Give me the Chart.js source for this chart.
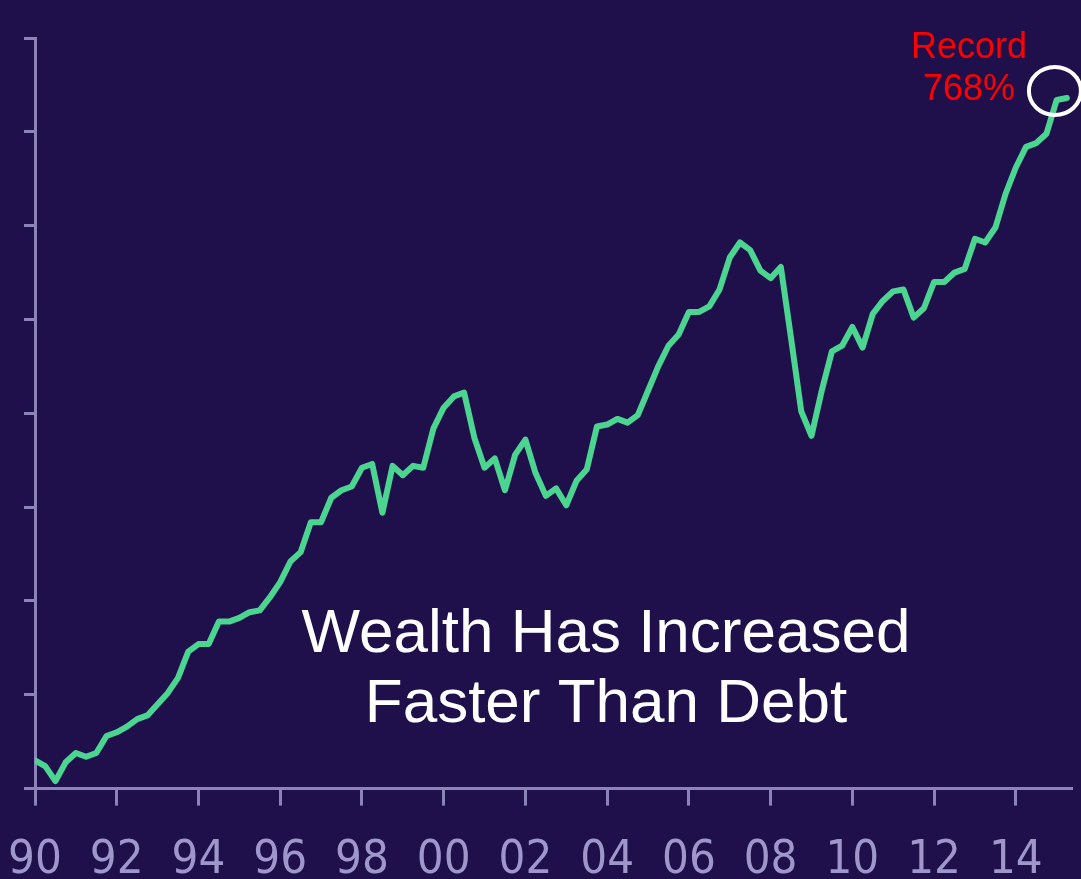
<!DOCTYPE html>
<html>
<head>
<meta charset="utf-8">
<script src="https://cdn.jsdelivr.net/npm/chart.js@4"></script>
<style>
  html, body { margin: 0; padding: 0; background: #1f104b; overflow: hidden; }
  #wrap { width: 1081px; height: 879px; position: relative; }
</style>
</head>
<body>
<div id="wrap"><canvas id="wealthChart"></canvas></div>
<script>
// quarterly household wealth ratio, 1990 Q1 .. 2015 Q2 (%)
const startYear = 1990;
const wealth = [
  415, 412, 404, 414, 419, 417, 419, 428, 430, 433,
  437, 439, 445, 451, 459, 473, 477, 477, 489, 489,
  491, 494, 495, 502, 510, 521, 526, 542, 542, 555,
  559, 561, 571, 573, 547, 572, 567, 572, 571, 592,
  603, 609, 611, 587, 571, 576, 559, 578, 586, 568,
  556, 560, 551, 564, 570, 593, 594, 597, 595, 599,
  612, 625, 636, 642, 654, 654, 657, 666, 683, 691,
  687, 676, 672, 678, 640, 601, 588, 612, 633, 636,
  646, 635, 653, 660, 665, 666, 651, 656, 670, 670,
  675, 677, 693, 691, 699, 717, 731, 742, 744, 749,
  767, 768
];
const tickYears = [1990, 1992, 1994, 1996, 1998, 2000, 2002, 2004, 2006, 2008, 2010, 2012, 2014];
const tickLabels = ["90", "92", "94", "96", "98", "00", "02", "04", "06", "08", "10", "12", "14"];
const yTicks = [400, 450, 500, 550, 600, 650, 700, 750, 800];

const points = wealth.map((v, i) => ({ x: startYear + i / 4, y: v }));

const axisColor = "#8c84b8";
const labelColor = "#9f97cb";

// headline, record label and the ring around the latest value
const notes = {
  id: "notes",
  afterDatasetsDraw(chart) {
    const ctx = chart.ctx;
    const xs = chart.scales.x, ys = chart.scales.y;
    const last = points[points.length - 1];
    const px = xs.getPixelForValue(last.x);
    const py = ys.getPixelForValue(last.y);
    ctx.save();
    ctx.strokeStyle = "#ffffff";
    ctx.lineWidth = 4;
    ctx.beginPath();
    ctx.ellipse(px - 12, py - 7, 26, 24, 0, 0, Math.PI * 2);
    ctx.stroke();

    ctx.textAlign = "center";
    ctx.textBaseline = "alphabetic";
    ctx.fillStyle = "#ff0000";
    ctx.font = '36px "Liberation Sans", Arial, sans-serif';
    ctx.fillText("Record", 969, 58);
    ctx.fillText(last.y + "%", 969, 100);

    ctx.fillStyle = "#ffffff";
    ctx.font = '62px "Liberation Sans", Arial, sans-serif';
    ctx.fillText("Wealth Has Increased", 606, 652);
    ctx.fillText("Faster Than Debt", 606, 722);
    ctx.restore();
  }
};

new Chart(document.getElementById("wealthChart"), {
  type: "line",
  data: {
    datasets: [{
      data: points,
      borderColor: "#4cd491",
      borderWidth: 6,
      pointRadius: 0,
      tension: 0,
      borderJoinStyle: "round",
      borderCapStyle: "round"
    }]
  },
  options: {
    responsive: true,
    maintainAspectRatio: false,
    animation: false,
    layout: { padding: { left: 24, right: 10, top: 38, bottom: -37 } },
    plugins: { legend: { display: false }, tooltip: { enabled: false } },
    scales: {
      x: {
        type: "linear",
        min: 1990,
        max: 2015.35,
        afterBuildTicks: (s) => { s.ticks = tickYears.map((v) => ({ value: v })); },
        // year labels may hang past the plot edge
        afterFit: (s) => { s.paddingLeft = 0; s.paddingRight = 0; },
        ticks: {
          callback: (v) => tickLabels[tickYears.indexOf(v)],
          color: labelColor,
          font: { family: '"Liberation Sans Narrow", "DejaVu Sans Condensed", "Open Sans", sans-serif', size: 47 },
          padding: 27,
          maxRotation: 0,
          autoSkip: false
        },
        grid: { drawOnChartArea: false, drawTicks: true, tickLength: 17, color: axisColor, lineWidth: 3 },
        border: { color: axisColor, width: 3 }
      },
      y: {
        min: 400,
        max: 800,
        afterBuildTicks: (s) => { s.ticks = yTicks.map((v) => ({ value: v })); },
        ticks: { display: false },
        grid: { drawOnChartArea: false, drawTicks: true, tickLength: 11, color: axisColor, lineWidth: 3 },
        border: { color: axisColor, width: 3 }
      }
    }
  },
  plugins: [notes]
});
</script>
</body>
</html>
